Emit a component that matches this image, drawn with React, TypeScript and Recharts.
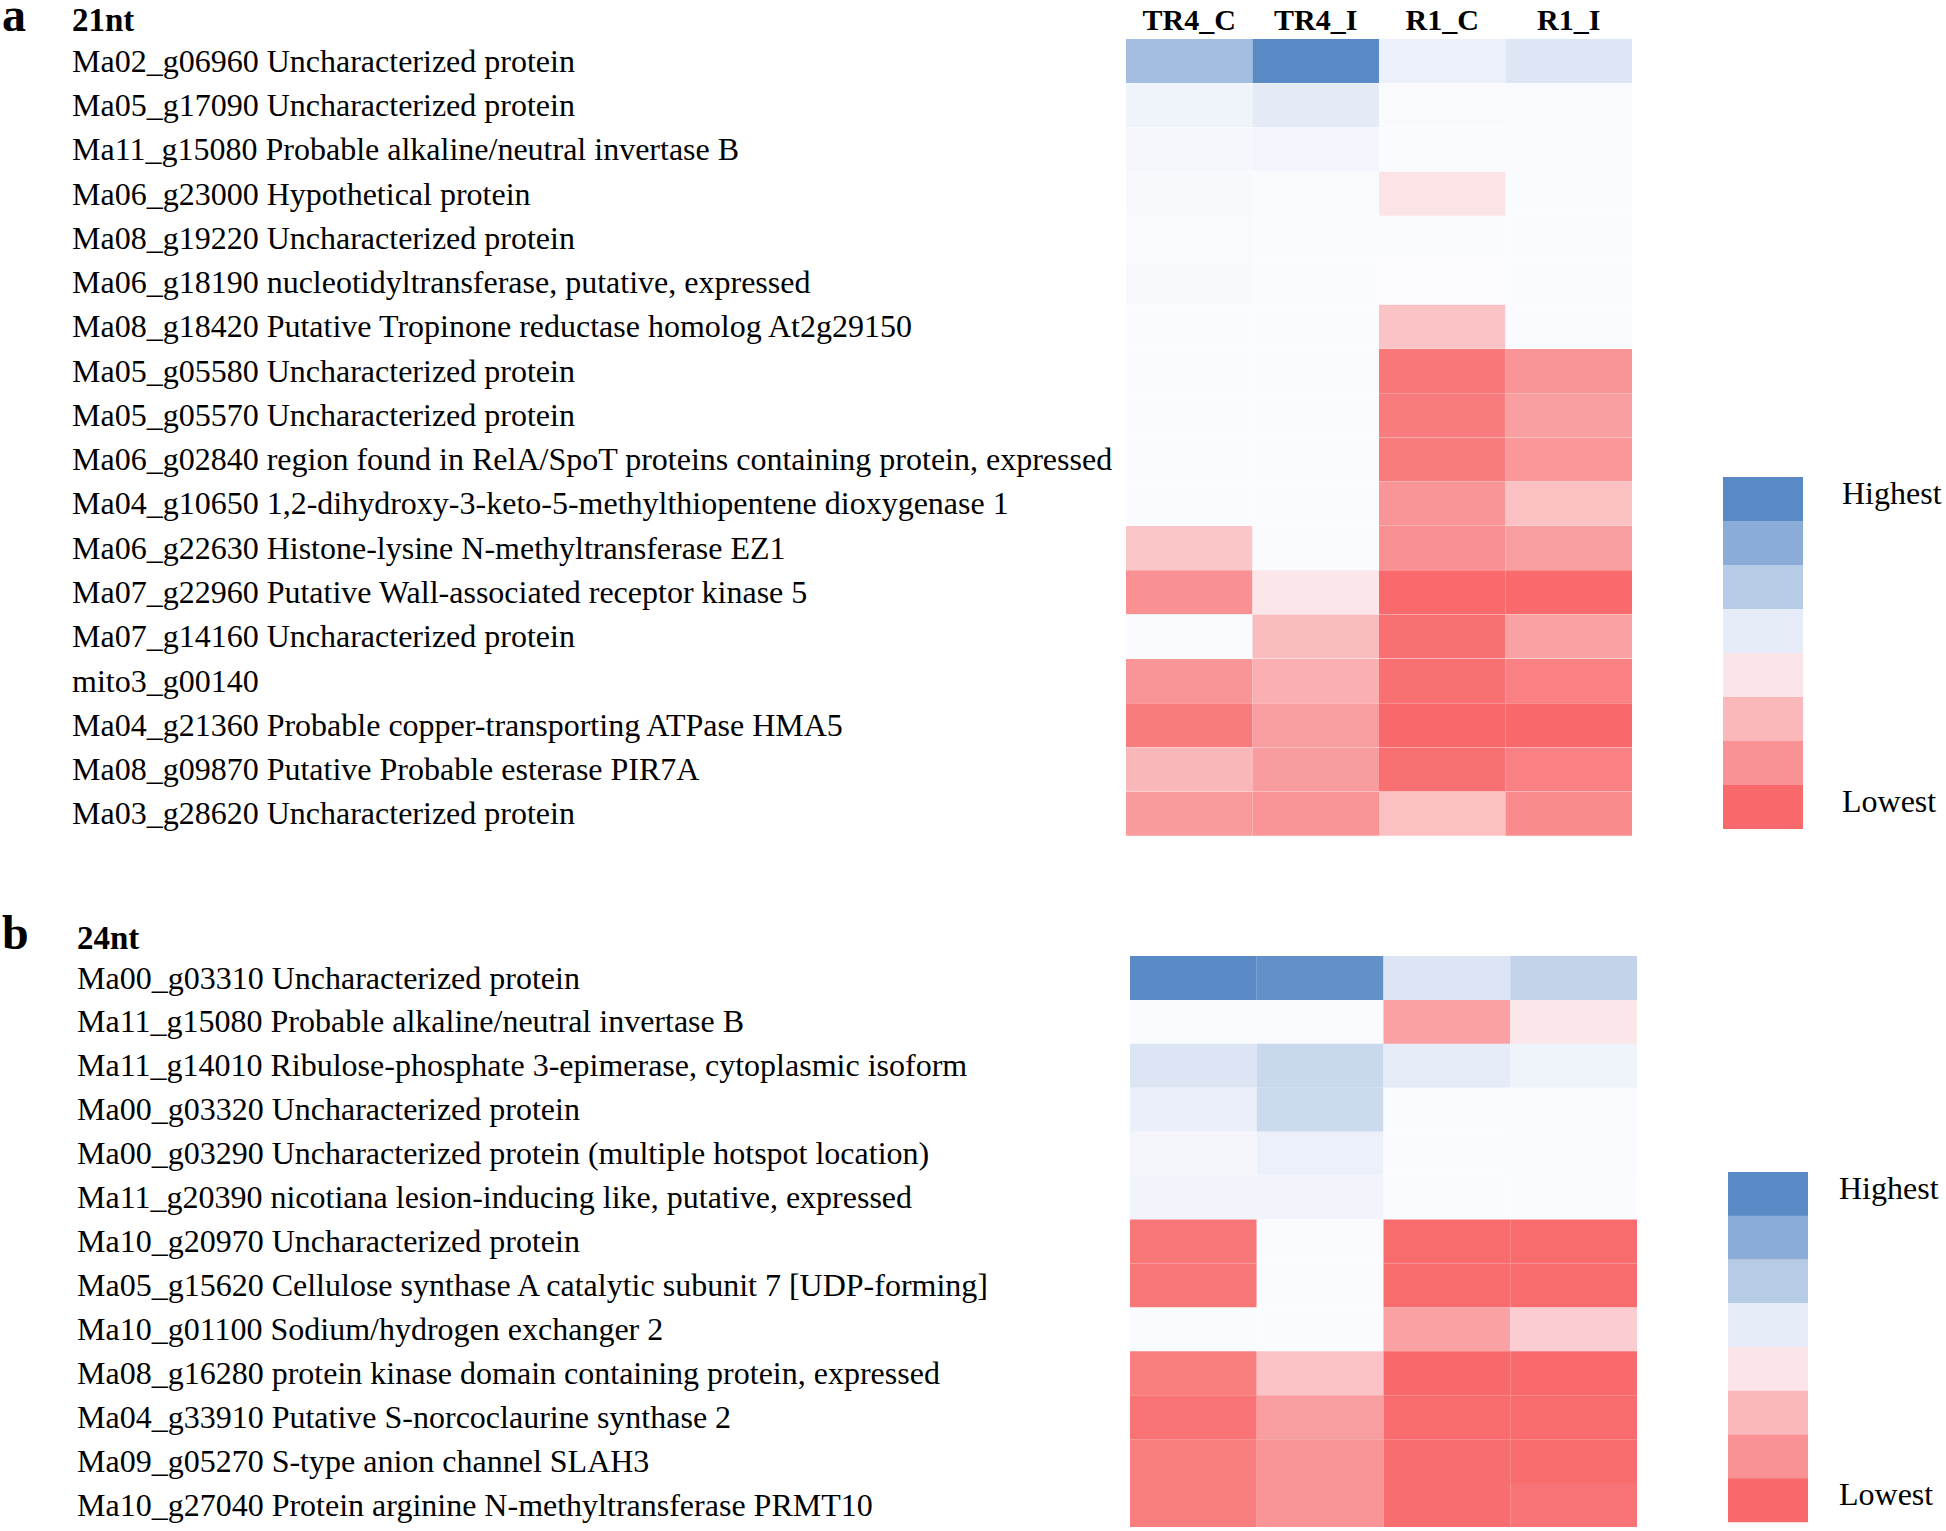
import React from 'react';
import { BarChart, Bar, XAxis, YAxis, Cell } from 'recharts';

// relative abundance per cell: +1 = highest (blue), 0 = middle (white), -1 = lowest (red)
const conditions = ['TR4_C', 'TR4_I', 'R1_C', 'R1_I'];

const genes21 = [
  'Ma02_g06960 Uncharacterized protein',
  'Ma05_g17090 Uncharacterized protein',
  'Ma11_g15080 Probable alkaline/neutral invertase B',
  'Ma06_g23000 Hypothetical protein',
  'Ma08_g19220 Uncharacterized protein',
  'Ma06_g18190 nucleotidyltransferase, putative, expressed',
  'Ma08_g18420 Putative Tropinone reductase homolog At2g29150',
  'Ma05_g05580 Uncharacterized protein',
  'Ma05_g05570 Uncharacterized protein',
  'Ma06_g02840 region found in RelA/SpoT proteins containing protein, expressed',
  'Ma04_g10650 1,2-dihydroxy-3-keto-5-methylthiopentene dioxygenase 1',
  'Ma06_g22630 Histone-lysine N-methyltransferase EZ1',
  'Ma07_g22960 Putative Wall-associated receptor kinase 5',
  'Ma07_g14160 Uncharacterized protein',
  'mito3_g00140',
  'Ma04_g21360 Probable copper-transporting ATPase HMA5',
  'Ma08_g09870 Putative Probable esterase PIR7A',
  'Ma03_g28620 Uncharacterized protein',
];
const tr4C21 = [0.55, 0.08, 0.04, 0.03, 0.02, 0.03, 0.01, 0.01, 0.01, 0.01, 0.01, -0.37, -0.73, 0.01, -0.7, -0.88, -0.47, -0.67];
const tr4I21 = [1.0, 0.15, 0.06, 0.02, 0.01, 0.01, 0.01, 0.01, 0.01, 0.01, 0.01, 0.01, -0.14, -0.43, -0.52, -0.64, -0.65, -0.7];
const r1C21 = [0.1, 0.02, 0.01, -0.17, 0.01, 0.0, -0.39, -0.9, -0.88, -0.88, -0.7, -0.73, -0.99, -0.95, -0.95, -1.0, -0.95, -0.41];
const r1I21 = [0.19, 0.02, 0.02, 0.01, 0.01, 0.01, 0.01, -0.7, -0.63, -0.69, -0.41, -0.64, -0.99, -0.62, -0.84, -1.0, -0.84, -0.77];

const genes24 = [
  'Ma00_g03310 Uncharacterized protein',
  'Ma11_g15080 Probable alkaline/neutral invertase B',
  'Ma11_g14010 Ribulose-phosphate 3-epimerase, cytoplasmic isoform',
  'Ma00_g03320 Uncharacterized protein',
  'Ma00_g03290 Uncharacterized protein (multiple hotspot location)',
  'Ma11_g20390 nicotiana lesion-inducing like, putative, expressed',
  'Ma10_g20970 Uncharacterized protein',
  'Ma05_g15620 Cellulose synthase A catalytic subunit 7 [UDP-forming]',
  'Ma10_g01100 Sodium/hydrogen exchanger 2',
  'Ma08_g16280 protein kinase domain containing protein, expressed',
  'Ma04_g33910 Putative S-norcoclaurine synthase 2',
  'Ma09_g05270 S-type anion channel SLAH3',
  'Ma10_g27040 Protein arginine N-methyltransferase PRMT10',
];
const tr4C24 = [1.0, 0.01, 0.2, 0.11, 0.05, 0.07, -0.9, -0.9, 0.01, -0.86, -0.93, -0.86, -0.86];
const tr4I24 = [0.95, 0.02, 0.32, 0.3, 0.1, 0.07, 0.01, 0.01, 0.01, -0.39, -0.64, -0.7, -0.7];
const r1C24 = [0.2, -0.62, 0.14, 0.01, 0.01, 0.01, -0.98, -0.98, -0.62, -1.0, -0.98, -0.97, -0.97];
const r1I24 = [0.36, -0.15, 0.08, 0.02, 0.02, 0.01, -0.98, -0.98, -0.32, -0.99, -0.98, -0.98, -0.93];

const legendLevels = [1, 0.7, 0.43, 0.14, -0.16, -0.46, -0.72, -1];
const legendLabels = ['Highest', '', '', '', '', '', '', 'Lowest'];

const HIGH = [90, 138, 198];
const MID = [252, 252, 255];
const LOW = [248, 105, 107];

const scaleColor = (v: number) => {
  const end = v >= 0 ? HIGH : LOW;
  const t = Math.min(1, Math.abs(v));
  const c = MID.map((m, k) => Math.round(m + (end[k] - m) * t));
  return `rgb(${c.join(',')})`;
};

const FONT = "'Liberation Serif', 'Times New Roman', serif";

const buildRows = (genes: string[]) =>
  genes.map((gene) => {
    const row: any = { gene };
    conditions.forEach((c) => (row[c] = 1));
    return row;
  });

const GeneTick = (props: any) => {
  const { y, payload, labelX } = props;
  return (
    <text x={labelX} y={y} dy="0.33em" textAnchor="start" fontSize={32} fill="#000" fontFamily={FONT}>
      {payload.value}
    </text>
  );
};

interface HeatmapProps {
  genes: string[];
  series: number[][];
  width: number;
  height: number;
  margin: { top: number; right: number; left: number; bottom: number };
  axisWidth: number;
  labelX: number;
  showHeader: boolean;
}

const Heatmap: React.FC<HeatmapProps> = ({ genes, series, width, height, margin, axisWidth, labelX, showHeader }) => {
  const rows = buildRows(genes);
  return (
    <BarChart width={width} height={height} data={rows} layout="vertical" margin={margin} barCategoryGap={0}>
      <XAxis
        type="number"
        domain={[0, 4]}
        orientation="top"
        ticks={[0.5, 1.5, 2.5, 3.5]}
        tickFormatter={(v: number) => conditions[Math.floor(v)]}
        axisLine={false}
        tickLine={false}
        tickSize={0}
        tickMargin={9}
        height={showHeader ? 39 : 0}
        hide={!showHeader}
        tick={{ fontSize: 30, fontWeight: 'bold', fill: '#000', fontFamily: FONT }}
      />
      <YAxis
        type="category"
        dataKey="gene"
        width={axisWidth}
        axisLine={false}
        tickLine={false}
        interval={0}
        tick={(p: any) => <GeneTick {...p} labelX={labelX} />}
      />
      {conditions.map((c, j) => (
        <Bar key={c} dataKey={c} stackId="cells" isAnimationActive={false}>
          {rows.map((r: any, i: number) => (
            <Cell key={r.gene} fill={scaleColor(series[j][i])} />
          ))}
        </Bar>
      ))}
    </BarChart>
  );
};

const LegendTick = (props: any) => {
  const { x, y, payload } = props;
  const label = legendLabels[payload.index ?? payload.value];
  return (
    <text x={x} y={y} dy="0.15em" textAnchor="start" fontSize={32} fill="#000" fontFamily={FONT}>
      {label}
    </text>
  );
};

const ScaleLegend: React.FC<{ width: number; height: number; margin: any; axisWidth: number; gap: number }> = ({
  width,
  height,
  margin,
  axisWidth,
  gap,
}) => {
  const rows = legendLevels.map((v, i) => ({ level: i, span: 1 }));
  return (
    <BarChart width={width} height={height} data={rows} layout="vertical" margin={margin} barCategoryGap={0}>
      <XAxis type="number" domain={[0, 1]} hide />
      <YAxis
        type="category"
        dataKey="level"
        orientation="right"
        width={axisWidth}
        axisLine={false}
        tickLine={false}
        tickSize={0}
        tickMargin={gap}
        interval={0}
        tick={<LegendTick />}
      />
      <Bar dataKey="span" isAnimationActive={false}>
        {legendLevels.map((v, i) => (
          <Cell key={i} fill={scaleColor(v)} />
        ))}
      </Bar>
    </BarChart>
  );
};

const PanelTitle: React.FC<{ letter: string; title: string; top: number; titleLeft: number }> = ({ letter, title, top, titleLeft }) => (
  <>
    <div style={{ position: 'absolute', left: 2, top: top, fontFamily: FONT, fontWeight: 'bold', fontSize: 48, lineHeight: '30px' }}>
      {letter}
    </div>
    <div style={{ position: 'absolute', left: titleLeft, top: top + 2, fontFamily: FONT, fontWeight: 'bold', fontSize: 33, lineHeight: '36px' }}>
      {title}
    </div>
  </>
);

const App: React.FC = () => {
  return (
    <div style={{ position: 'absolute', left: 0, top: 0, width: 1946, height: 1531, background: '#fff', overflow: 'hidden' }}>
      <PanelTitle letter="a" title="21nt" top={0} titleLeft={72} />
      <div style={{ position: 'absolute', left: 0, top: 0 }}>
        <Heatmap
          genes={genes21}
          series={[tr4C21, tr4I21, r1C21, r1I21]}
          width={1660}
          height={850}
          margin={{ top: 0, right: 28, left: 0, bottom: 14 }}
          axisWidth={1126}
          labelX={72}
          showHeader
        />
      </div>
      <div style={{ position: 'absolute', left: 1700, top: 460 }}>
        <ScaleLegend width={246} height={380} margin={{ top: 17, right: 0, left: 23, bottom: 11 }} axisWidth={143} gap={39} />
      </div>

      <PanelTitle letter="b" title="24nt" top={918} titleLeft={77} />
      <div style={{ position: 'absolute', left: 0, top: 900 }}>
        <Heatmap
          genes={genes24}
          series={[tr4C24, tr4I24, r1C24, r1I24]}
          width={1660}
          height={631}
          margin={{ top: 56, right: 23, left: 0, bottom: 4 }}
          axisWidth={1130}
          labelX={77}
          showHeader={false}
        />
      </div>
      <div style={{ position: 'absolute', left: 1705, top: 1155 }}>
        <ScaleLegend width={241} height={370} margin={{ top: 17, right: 0, left: 23, bottom: 3 }} axisWidth={138} gap={31} />
      </div>
    </div>
  );
};

export default App;
